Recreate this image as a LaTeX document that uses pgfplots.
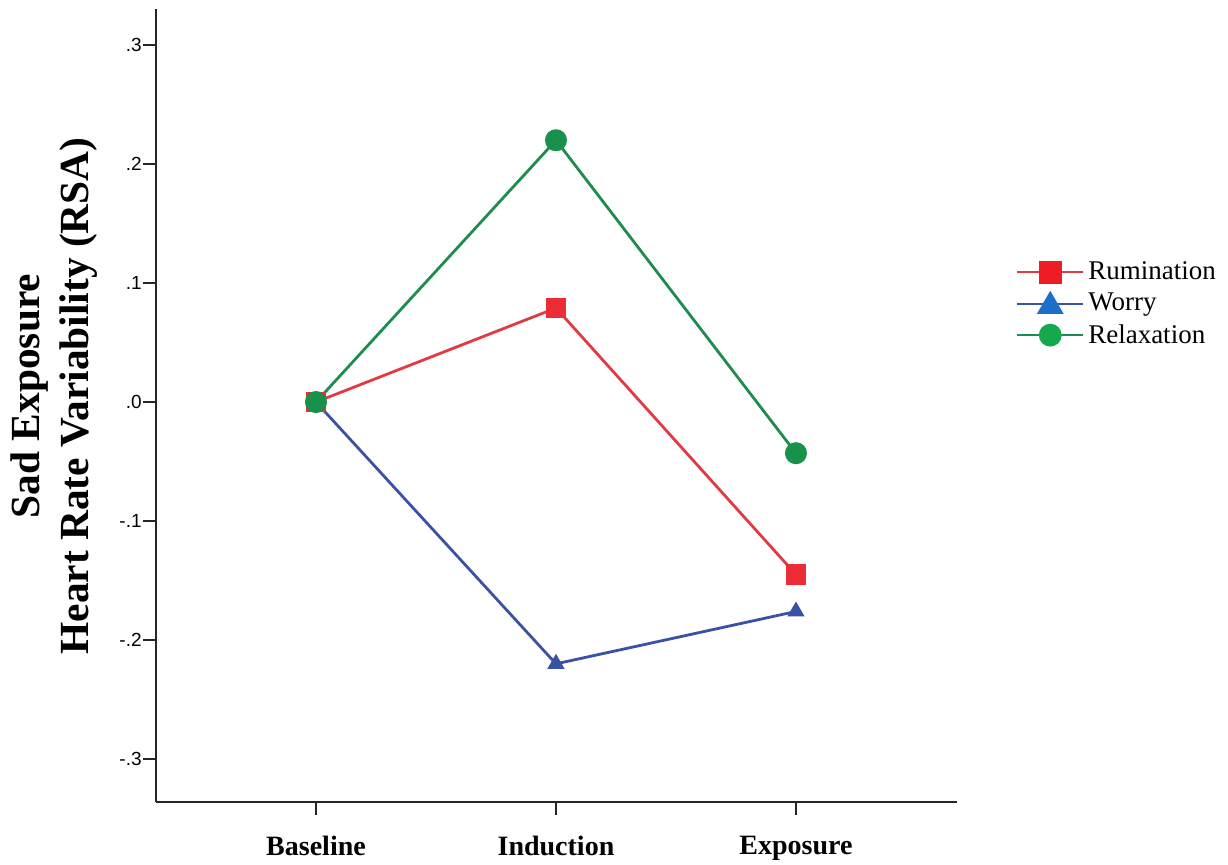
\documentclass[border=0pt]{standalone}
\usepackage{fontspec}
\setmainfont{Liberation Serif}
\newfontfamily\arial{Liberation Sans}
\usepackage{pgfplots}
\pgfplotsset{compat=1.18}

\definecolor{rumline}{HTML}{E23A42}
\definecolor{rumfill}{HTML}{EC2D37}
\definecolor{rumleg}{HTML}{EE1C25}
\definecolor{worline}{HTML}{3A52A6}
\definecolor{worleg}{HTML}{1F6FC6}
\definecolor{relline}{HTML}{1E8C50}
\definecolor{relfill}{HTML}{17914B}
\definecolor{relleg}{HTML}{16A84C}

\begin{document}
\begin{tikzpicture}
\path[use as bounding box] (-78pt,-31.5pt) rectangle (536pt,401pt);
\begin{axis}[
  at={(0pt,0pt)}, anchor=south west,
  scale only axis,
  width=400.5pt, height=396.5pt,
  xmin=-0.6667, xmax=2.671,
  ymin=-0.3361, ymax=0.3303,
  axis lines=left,
  axis line style={-, line width=1pt, black!85},
  tick style={line width=1pt, black!85},
  tick align=outside,
  major tick length=6.5pt,
  xtick={0,1,2},
  xticklabels={Baseline,Induction,Exposure},
  xticklabel style={font=\bfseries\fontsize{14}{16}\selectfont, yshift=-7pt},
  ytick={-0.3,-0.2,-0.1,0,0.1,0.2,0.3},
  yticklabels={-.3,-.2,-.1,.0,.1,.2,.3},
  yticklabel style={font=\arial\fontsize{9.5}{11}\selectfont, inner sep=0.5pt},
  ylabel={Sad Exposure\\Heart Rate Variability (RSA)},
  ylabel style={font=\bfseries\fontsize{20.7}{24.5}\selectfont, align=center,
    at={(axis description cs:-0.127,0.512)}, anchor=center},
  clip=false,
  legend style={draw=none, fill=none, at={(axis description cs:1.066,0.628)},
    anchor=west, font=\fontsize{13.5}{16}\selectfont,
    row sep=1.2pt, cells={anchor=west}},
]
\addplot[rumline, line width=1.4pt, mark=square*, mark size=4.5pt,
  mark options={fill=rumfill, draw=rumfill},
  legend image code/.code={
    \draw[rumline, line width=1pt] (0pt,0pt)--(33pt,0pt);
    \fill[rumleg] (11.5pt,-5pt) rectangle (21.5pt,5pt);}]
  coordinates {(0,0) (1,0.079) (2,-0.145)};
\addlegendentry{Rumination}
\addplot[worline, line width=1.4pt, mark=triangle*, mark size=3.6pt,
  mark options={fill=worline, draw=worline},
  legend image code/.code={
    \draw[worline, line width=1pt] (0pt,0pt)--(33pt,0pt);
    \fill[worleg] (11pt,-4.5pt)--(22pt,-4.5pt)--(16.5pt,5pt)--cycle;}]
  coordinates {(0,0) (1,-0.220) (2,-0.176)};
\addlegendentry{Worry}
\addplot[relline, line width=1.4pt, mark=*, mark size=4.8pt,
  mark options={fill=relfill, draw=relfill},
  legend image code/.code={
    \draw[relline, line width=1pt] (0pt,0pt)--(33pt,0pt);
    \fill[relleg] (16.5pt,0pt) circle (5pt);}]
  coordinates {(0,0) (1,0.220) (2,-0.043)};
\addlegendentry{Relaxation}
\end{axis}
\end{tikzpicture}
\end{document}
